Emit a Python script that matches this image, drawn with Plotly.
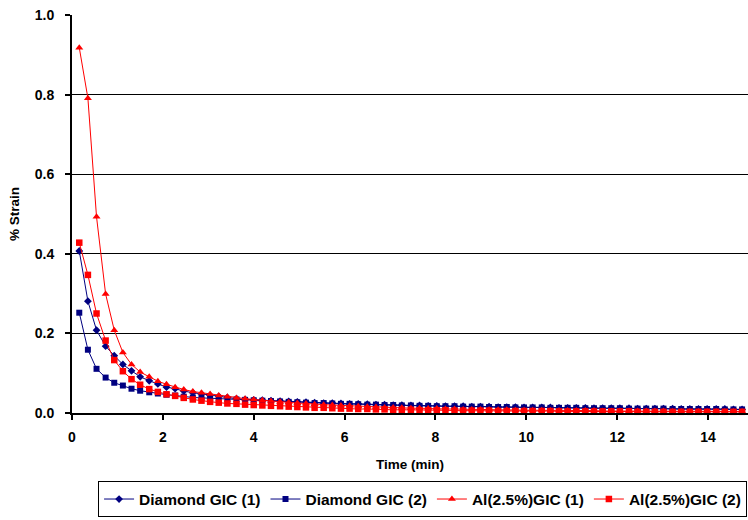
import plotly.graph_objects as go

time_min = [0.16, 0.35, 0.54, 0.74, 0.93, 1.12, 1.31, 1.50, 1.70, 1.89,
            2.08, 2.27, 2.46, 2.66, 2.85, 3.04, 3.23, 3.42, 3.62, 3.81,
            4.00, 4.19, 4.38, 4.58, 4.77, 4.96, 5.15, 5.34, 5.54, 5.73,
            5.92, 6.11, 6.30, 6.50, 6.69, 6.88, 7.07, 7.26, 7.46, 7.65,
            7.84, 8.03, 8.22, 8.42, 8.61, 8.80, 8.99, 9.18, 9.38, 9.57,
            9.76, 9.95, 10.14, 10.34, 10.53, 10.72, 10.91, 11.10, 11.30, 11.49,
            11.68, 11.87, 12.06, 12.26, 12.45, 12.64, 12.83, 13.02, 13.22, 13.41,
            13.60, 13.79, 13.98, 14.18, 14.37, 14.56, 14.75]

diamond_gic_1 = [0.407, 0.281, 0.208, 0.168, 0.144, 0.122, 0.106, 0.091, 0.081, 0.073,
                 0.065, 0.061, 0.055, 0.051, 0.048, 0.044, 0.042, 0.039, 0.036, 0.034,
                 0.033, 0.032, 0.031, 0.030, 0.029, 0.028, 0.027, 0.026, 0.025, 0.025,
                 0.024, 0.023, 0.023, 0.022, 0.021, 0.021, 0.020, 0.020, 0.019, 0.019,
                 0.018, 0.018, 0.017, 0.017, 0.017, 0.016, 0.016, 0.016, 0.015, 0.015,
                 0.015, 0.014, 0.014, 0.014, 0.014, 0.013, 0.013, 0.013, 0.013, 0.012,
                 0.012, 0.012, 0.012, 0.012, 0.011, 0.011, 0.011, 0.011, 0.011, 0.010,
                 0.010, 0.010, 0.010, 0.010, 0.010, 0.009, 0.009]

diamond_gic_2 = [0.252, 0.159, 0.111, 0.089, 0.076, 0.069, 0.061, 0.056, 0.052, 0.049,
                 0.046, 0.044, 0.041, 0.039, 0.038, 0.037, 0.036, 0.035, 0.034, 0.033,
                 0.032, 0.031, 0.030, 0.029, 0.028, 0.027, 0.026, 0.025, 0.025, 0.024,
                 0.023, 0.023, 0.022, 0.021, 0.021, 0.020, 0.020, 0.019, 0.019, 0.018,
                 0.018, 0.017, 0.017, 0.017, 0.016, 0.016, 0.016, 0.015, 0.015, 0.015,
                 0.014, 0.014, 0.014, 0.014, 0.013, 0.013, 0.013, 0.013, 0.012, 0.012,
                 0.012, 0.012, 0.012, 0.011, 0.011, 0.011, 0.011, 0.011, 0.010, 0.010,
                 0.010, 0.010, 0.010, 0.010, 0.009, 0.009, 0.009]

al_gic_1 = [0.918, 0.791, 0.493, 0.299, 0.208, 0.152, 0.122, 0.103, 0.091, 0.080,
            0.072, 0.065, 0.059, 0.054, 0.051, 0.048, 0.044, 0.041, 0.038, 0.036,
            0.034, 0.032, 0.030, 0.028, 0.027, 0.025, 0.024, 0.022, 0.021, 0.020,
            0.019, 0.018, 0.017, 0.016, 0.015, 0.014, 0.014, 0.013, 0.012, 0.012,
            0.011, 0.011, 0.010, 0.010, 0.009, 0.009, 0.009, 0.008, 0.008, 0.008,
            0.007, 0.007, 0.007, 0.007, 0.006, 0.006, 0.006, 0.006, 0.006, 0.006,
            0.005, 0.005, 0.005, 0.005, 0.005, 0.005, 0.005, 0.005, 0.004, 0.004,
            0.004, 0.004, 0.004, 0.004, 0.004, 0.004, 0.004]

al_gic_2 = [0.428, 0.347, 0.250, 0.182, 0.133, 0.105, 0.085, 0.071, 0.060, 0.053,
            0.047, 0.043, 0.038, 0.034, 0.031, 0.028, 0.026, 0.024, 0.023, 0.021,
            0.020, 0.019, 0.018, 0.017, 0.016, 0.015, 0.014, 0.013, 0.013, 0.012,
            0.011, 0.011, 0.010, 0.010, 0.009, 0.009, 0.008, 0.008, 0.008, 0.007,
            0.007, 0.007, 0.007, 0.006, 0.006, 0.006, 0.006, 0.006, 0.005, 0.005,
            0.005, 0.005, 0.005, 0.005, 0.005, 0.004, 0.004, 0.004, 0.004, 0.004,
            0.004, 0.004, 0.004, 0.004, 0.003, 0.003, 0.003, 0.003, 0.003, 0.003,
            0.003, 0.003, 0.003, 0.003, 0.003, 0.003, 0.003]

NAVY = "#000080"
RED = "#FF0000"
FONT = "Liberation Sans, Arial, sans-serif"

series = [
    ("Diamond GIC (1)", diamond_gic_1, NAVY, "diamond", 6),
    ("Diamond GIC (2)", diamond_gic_2, NAVY, "square", 6),
    ("Al(2.5%)GIC (1)", al_gic_1, RED, "triangle-up", 7),
    ("Al(2.5%)GIC (2)", al_gic_2, RED, "square", 6.5),
]

fig = go.Figure()
for name, vals, color, sym, size in series:
    fig.add_trace(go.Scatter(
        x=time_min, y=vals, name=name, mode="lines+markers",
        line=dict(color=color, width=1),
        marker=dict(symbol=sym, size=size, color=color, line=dict(width=0)),
        cliponaxis=False,
    ))

fig.update_layout(
    width=748, height=520,
    margin=dict(l=72, r=0, t=15, b=107),
    paper_bgcolor="white", plot_bgcolor="white",
    font=dict(family=FONT, size=13, color="black"),
    showlegend=True,
    legend=dict(
        orientation="h", x=0.5186, xanchor="center", y=-0.172, yanchor="top",
        bordercolor="black", borderwidth=1,
        font=dict(family=FONT, size=15.5, weight="bold"),
        itemwidth=30, tracegroupgap=0,
    ),
)

fig.update_xaxes(
    range=[0, 14.88], tickmode="linear", tick0=0, dtick=2,
    showgrid=False, zeroline=False,
    showline=True, linecolor="black", linewidth=2,
    ticks="outside", ticklen=5, tickwidth=2, tickcolor="black",
    ticklabelstandoff=5,
    tickfont=dict(family=FONT, size=14, weight="bold"),
    title=dict(text="Time (min)", font=dict(family=FONT, size=13.5, weight="bold"), standoff=16),
)
fig.update_yaxes(
    range=[0, 1.0], tickmode="linear", tick0=0, dtick=0.2, tickformat=".1f",
    showgrid=True, gridcolor="black", gridwidth=1, zeroline=False,
    showline=True, linecolor="black", linewidth=2,
    ticks="outside", ticklen=5, tickwidth=2, tickcolor="black",
    ticklabelstandoff=8,
    tickfont=dict(family=FONT, size=14, weight="bold"),
    title=dict(text="% Strain", font=dict(family=FONT, size=13.5, weight="bold"), standoff=12),
)

fig.write_html("out.html")
